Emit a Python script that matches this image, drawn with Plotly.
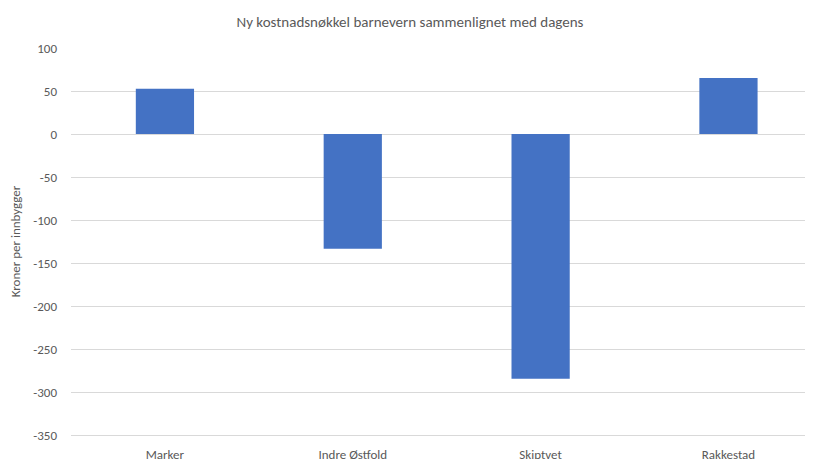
import plotly.graph_objects as go

categories = ["Marker", "Indre Østfold", "Skiptvet", "Rakkestad"]
values = [52.5, -133.5, -284.5, 65.0]
y_ticks = [100, 50, 0, -50, -100, -150, -200, -250, -300, -350]
y_tick_labels = ["100", "50", "0", "-50", "-100", "-150", "-200", "-250", "-300", "-350"]

title_text = "Ny kostnadsnøkkel barnevern sammenlignet med dagens"
y_title = "Kroner per innbygger"

font_family = "Calibri, Carlito, 'Liberation Sans Narrow', 'Open Sans', sans-serif"
grey = "#595959"

W, H = 805, 451  # page body has an 8px default margin

fig = go.Figure(
    go.Bar(
        x=categories,
        y=values,
        marker=dict(color="#4472C4", line=dict(width=0)),
        width=0.31,
    )
)

fig.update_layout(
    width=W,
    height=H,
    margin=dict(l=63, r=0, t=40, b=24, autoexpand=False),
    paper_bgcolor="white",
    plot_bgcolor="white",
    showlegend=False,
    font=dict(family=font_family, color=grey, size=13),
    title=dict(
        text=title_text,
        x=402 / W,
        xanchor="center",
        y=1 - 14 / H,
        yanchor="middle",
        font=dict(size=15, color=grey, family=font_family),
    ),
    xaxis=dict(
        range=[-0.5, 3.45],
        showgrid=False,
        showline=True,
        linecolor="#D9D9D9",
        linewidth=1,
        zeroline=False,
        ticks="",
        tickfont=dict(size=13, color=grey),
        ticklabelstandoff=7,
    ),
    yaxis=dict(
        range=[-350, 100],
        tickvals=y_ticks,
        ticktext=y_tick_labels,
        showgrid=True,
        gridcolor="#D9D9D9",
        gridwidth=1,
        zeroline=True,
        zerolinecolor="#D9D9D9",
        zerolinewidth=1,
        showline=False,
        ticks="",
        ticklabelstandoff=13,
        tickfont=dict(size=13, color=grey),
        title=dict(text=y_title, font=dict(size=13, color=grey), standoff=12),
    ),
)

fig.write_html("out.html")
